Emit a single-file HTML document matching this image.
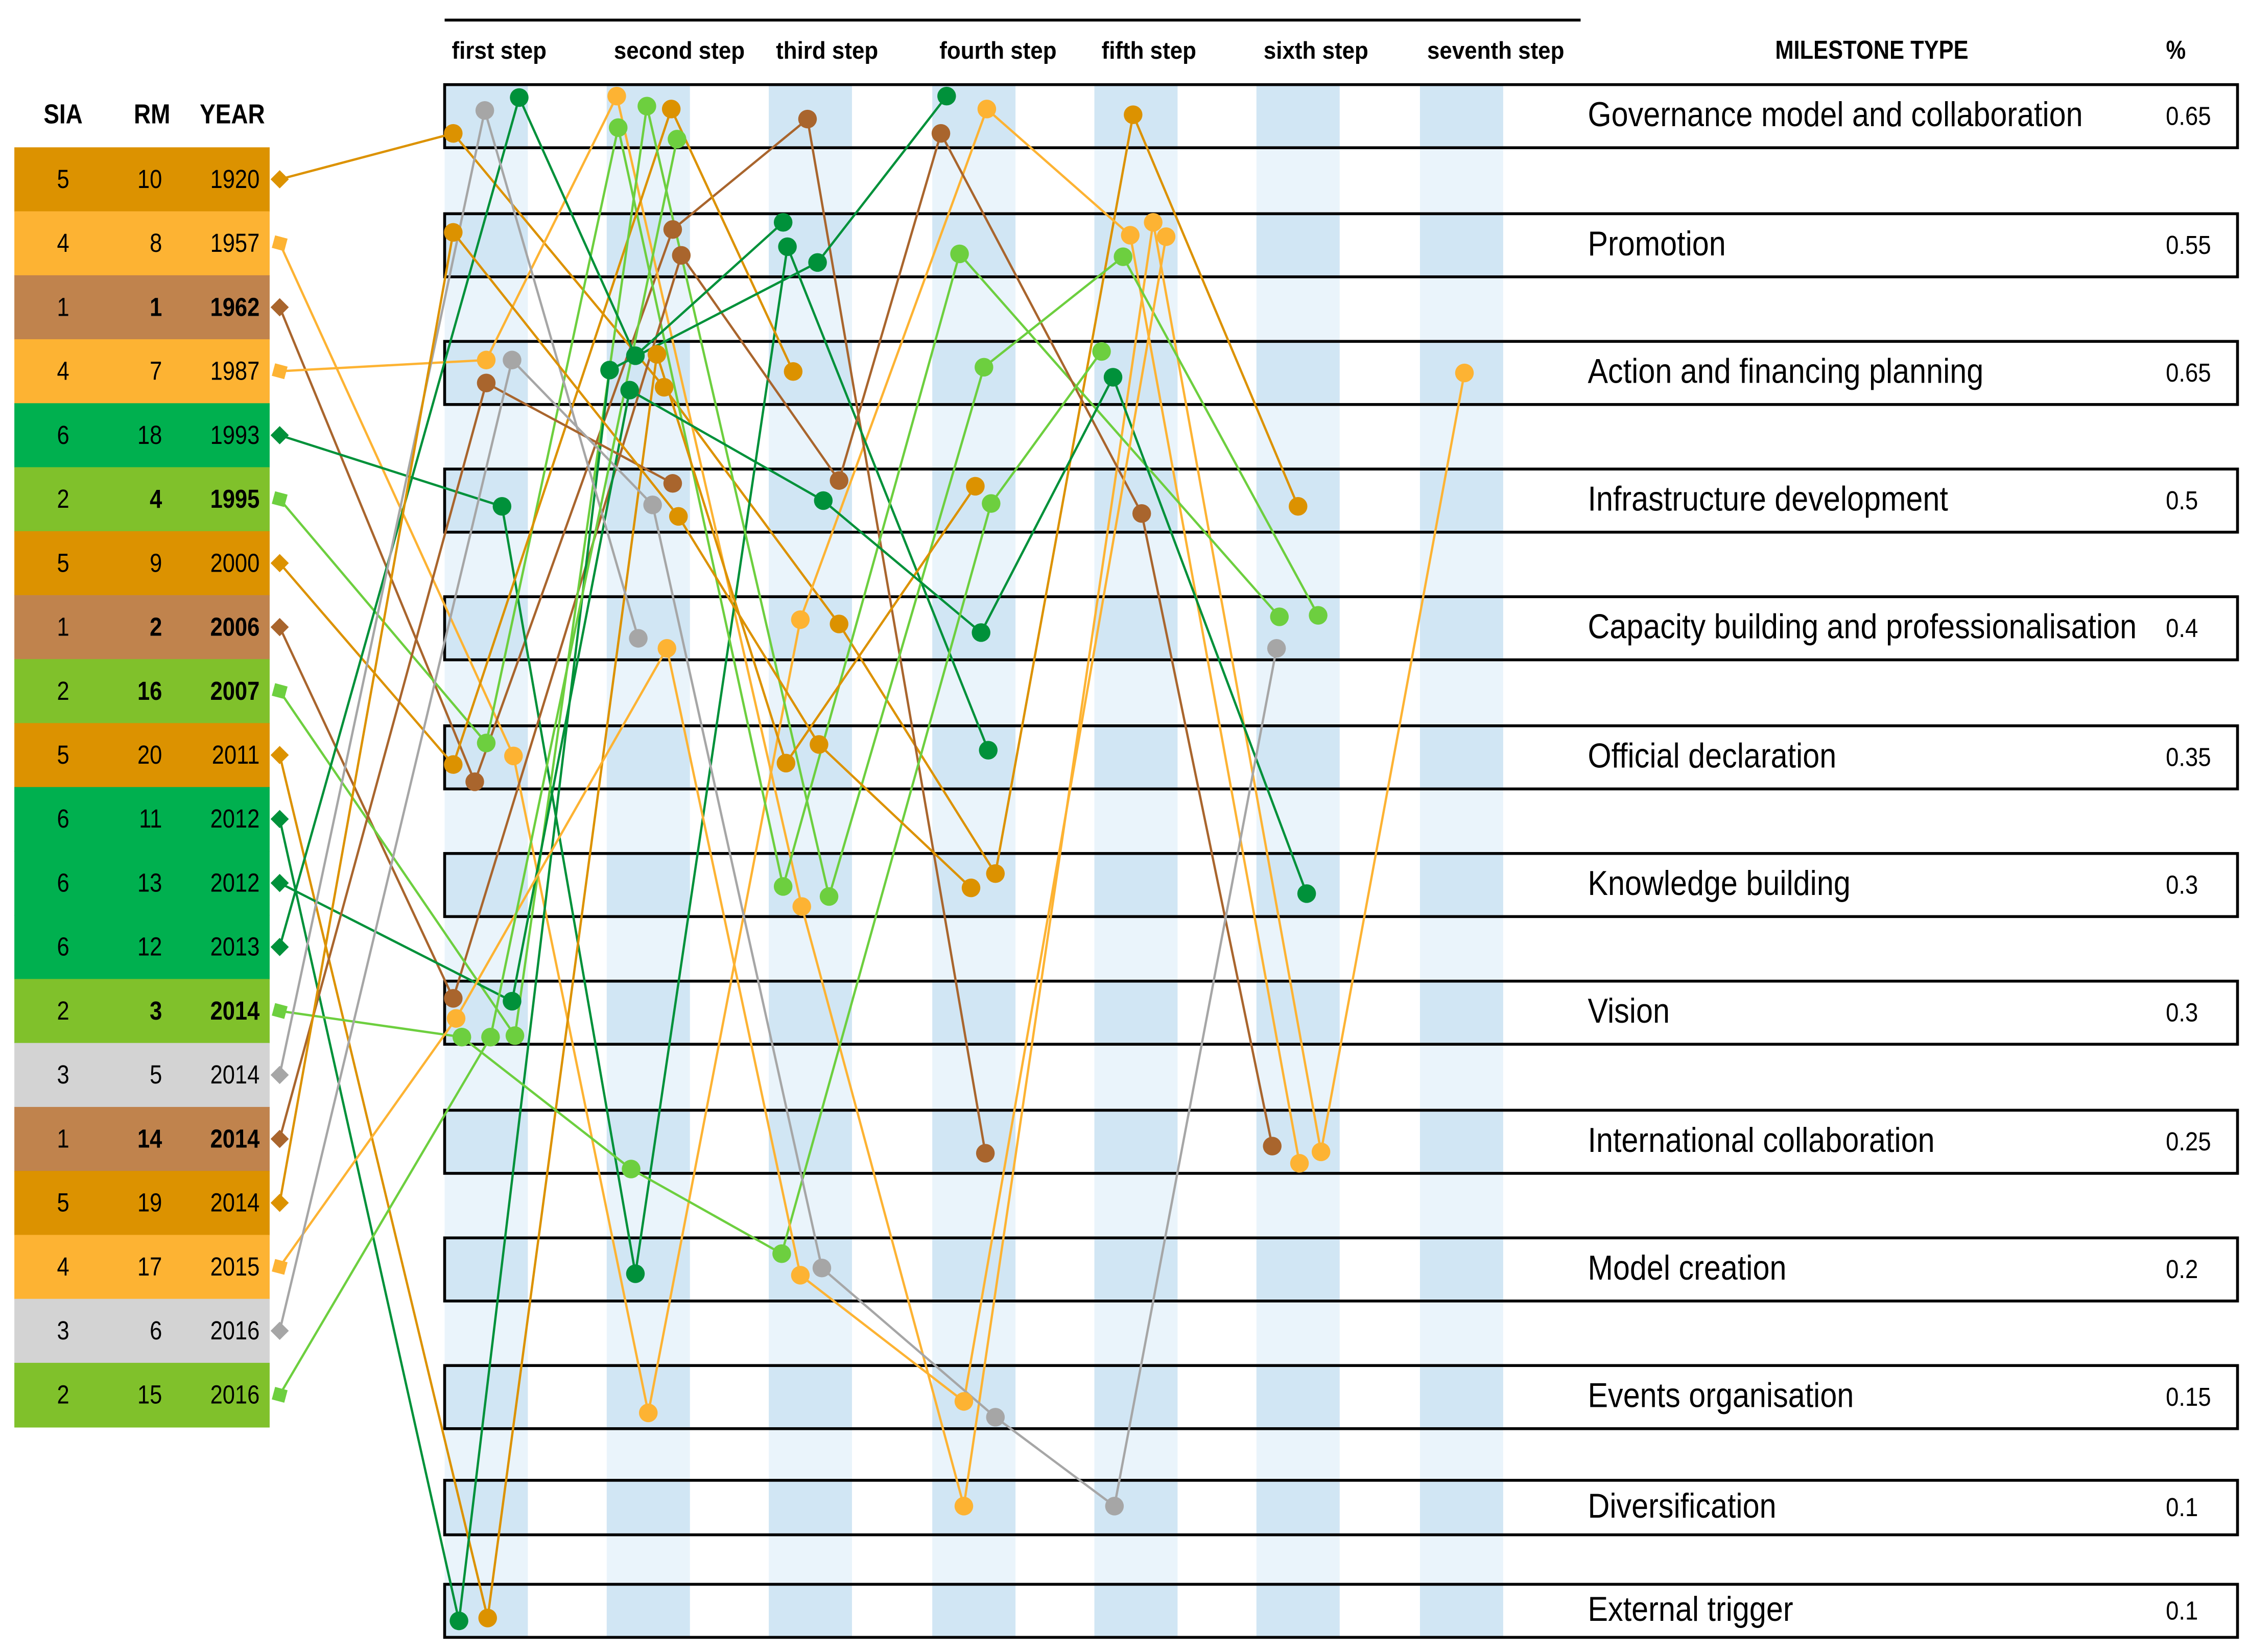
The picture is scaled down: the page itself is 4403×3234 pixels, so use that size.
<!DOCTYPE html>
<html><head><meta charset="utf-8"><style>
html,body{margin:0;padding:0;background:#fff;}
svg{display:block;font-family:"Liberation Sans",sans-serif;}
</style></head><body>
<svg id="chart" width="4403" height="3234" viewBox="0 0 1568 1151.7" xmlns="http://www.w3.org/2000/svg">
<g id="bg"></g><g id="boxes"></g><g id="lines"></g><g id="dots"></g><g id="table"></g><g id="labels"></g>
</svg>
<script>
// ---- data ----
const milestones = ["Governance model and collaboration","Promotion","Action and financing planning","Infrastructure development","Capacity building and professionalisation","Official declaration","Knowledge building","Vision","International collaboration","Model creation","Events organisation","Diversification","External trigger"];
const percents = ["0.65","0.55","0.65","0.5","0.4","0.35","0.3","0.3","0.25","0.2","0.15","0.1","0.1"];
const stepLabels = ["first step","second step","third step","fourth step","fifth step","sixth step","seventh step"];
const caseSIA = [5,4,1,4,6,2,5,1,2,5,6,6,6,2,3,1,5,4,3,2];
const caseRM = [10,8,1,7,18,4,9,2,16,20,11,13,12,3,5,14,19,17,6,15];
const caseYear = [1920,1957,1962,1987,1993,1995,2000,2006,2007,2011,2012,2012,2013,2014,2014,2014,2014,2015,2016,2016];
const boldRM = [false,false,true,false,false,true,false,true,true,false,false,false,false,true,false,true,false,false,false,false];
const boldYear = [false,false,true,false,false,true,false,true,true,false,false,false,false,true,false,true,false,false,false,false];
const caseSteps = [
 [0,1,2,3,4,5],[0,1,2,3,4,5],[0,1,2,3],[0,1,2,3,4,5,6],[0,1,2,3],[0,1,2,3,5],[0,1,2],[0,1,2,3,4,5],[0,1,2,3,4,5],[0,1,2,3],
 [0,1,2,3],[0,1,2,3,4,5],[0,1,2],[0,1,2,3,4],[0,1],[0,1],[0,1,2,3],[0,1,2,3,4],[0,1,2,3,4,5],[0,1]];
const caseMilestones = [
 [0,2,4,6,0,3],[5,10,4,0,1,8],[5,1,0,8],[2,0,6,11,1,8,2],[3,9,1,5],[5,0,6,1,4],[5,0,2],[7,1,3,0,3,8],[7,0,6,2,1,4],[12,2,5,3],
 [12,2,1,0],[7,2,3,4,2,6],[0,2,1],[7,8,9,3,2],[0,4],[2,3],[1,3,5,6],[7,4,9,10,1],[2,3,9,10,11,4],[7,0]];
const jitterX = [
 [-23,11,20,15,-2,0],[19,0,-7,9,-4,1],[-8,17,-2,8],[0,-22,-6,-7,12,16,2],[11,-9,-16,10],[0,-21,-19,-10,-13],[-23,16,-12],[-23,23,20,-23,4,-18],[20,-1,13,7,-9,14],[1,6,-17,1],
 [-19,-27,5,-19],[18,-13,9,5,-16,6],[23,-9,-19],[-17,-12,-20,12,-24],[-1,-7],[0,17],[-23,21,6,-2],[-21,13,-7,-7,21],[18,3,8,15,-15,-15],[3,20]];
const jitterY = [
 [12,10,-3,-8,-1,4],[-1,11,-6,-5,-7,15],[17,-11,2,8],[-9,-14,15,-1,-16,7,0],[4,3,1,-5],[-10,8,1,6,-8],[5,-5,-1],[-10,7,-14,12,9,3],[16,-7,8,-4,8,-9],[5,-13,4,-10],
 [7,-2,12,-14],[-8,12,0,3,3,6],[-13,-12,-16],[17,19,-11,2,-15],[-4,7],[7,-12],[-9,11,-9,2],[4,14,4,3,-6],[-9,3,-1,14,-1,14],[17,16]];
const siaCell = {5:"#dc9200",4:"#fdb333",1:"#c0834d",6:"#00b04f",2:"#80c12b",3:"#d3d3d3"};
const siaLine = {5:"#dc9200",4:"#fdb333",1:"#a9652d",6:"#00913a",2:"#6dcf3f",3:"#a6a6a6"};

// ---- layout ----
const NS="http://www.w3.org/2000/svg";
const bandX=[310,423,536,650,763,876,990], bandW=58;
const rowC=[81,171,260,349,438,528,617,706,796,885,974,1051,1123];
const rowH=[22,22,22,22,22,22,22,22,22,22,22,19,18.5];
const tblTop=102.7, tblRow=44.6;
function xS(s){return bandX[s]+bandW/2;}
function yM(m){return rowC[m];}
function yRow(i){return tblTop+tblRow*(i+0.5);}
function mk(tag,attrs,parent){const e=document.createElementNS(NS,tag);for(const k in attrs)e.setAttribute(k,attrs[k]);parent.appendChild(e);return e;}
const bg=document.getElementById('bg'),boxes=document.getElementById('boxes'),lines=document.getElementById('lines'),dots=document.getElementById('dots'),table=document.getElementById('table'),labels=document.getElementById('labels');

bandX.forEach((x,i)=>{
  const b=mk('rect',{x:x,y:59,width:bandW,height:1142-59,fill:"#eaf4fb"},bg);
  
  
  rowC.forEach((c,m)=>{
    const d=mk('rect',{x:x,y:c-rowH[m],width:bandW,height:rowH[m]*2,fill:"#d1e6f4"},bg);
    
    
  });
});
rowC.forEach((c,m)=>{
  const r=mk('rect',{x:310,y:c-rowH[m],width:1250,height:rowH[m]*2,fill:"none",stroke:"#000","stroke-width":2},boxes);
  
  
  const g=mk('g',{transform:`translate(1107,${c+7}) scale(0.88,1)`},labels);
  const t=mk('text',{x:0,y:0,"font-size":24,fill:"#000"},g);
  t.textContent=milestones[m];
  
  
  const pg=mk('g',{transform:`translate(1510,${c+6}) scale(0.9,1)`},labels);
  const p=mk('text',{x:0,y:0,"font-size":18,fill:"#000"},pg);
  p.textContent=percents[m];
  
  
});
const hl=mk('line',{x1:310,y1:14,x2:1102,y2:14,stroke:"#000","stroke-width":2},labels);


stepLabels.forEach((s,i)=>{
  const g=mk('g',{transform:`translate(${bandX[i]+5},41) scale(0.92,1)`},labels);
  const t=mk('text',{x:0,y:0,"font-size":17,"font-weight":"bold"},g);
  t.textContent=s;
  
  
});
function hdr(txt,x,y,size,anchor,name){
  const g=mk('g',{transform:`translate(${x},${y}) scale(0.86,1)`},labels);
  const t=mk('text',{x:0,y:0,"font-size":size,"font-weight":"bold","text-anchor":anchor},g);
  t.textContent=txt;
  
  
}
hdr("MILESTONE TYPE",1305,41,18,"middle","milestone-type-header");
hdr("%",1517,41,18,"middle","percent-header");
hdr("SIA",44,86,19,"middle","sia-header");
hdr("RM",106,86,19,"middle","rm-header");
hdr("YEAR",162,86,19,"middle","year-header");

caseSIA.forEach((sia,i)=>{
  const y=tblTop+tblRow*i;
  const r=mk('rect',{x:10,y:y,width:178,height:tblRow+0.5,fill:siaCell[sia]},table);
  
  
  const cy=yRow(i)+6;
  [[String(sia),44,false,'sia-cell'],[String(caseRM[i]),113,boldRM[i],'rm-cell'],[String(caseYear[i]),181,boldYear[i],'year-cell']].forEach(([v,x,b,n],k)=>{
    const g=mk('g',{transform:`translate(${x},${cy}) scale(0.86,1)`},table);
    const t=mk('text',{x:0,y:0,"font-size":18,"font-weight":b?"bold":"normal","text-anchor":k===0?"middle":"end"},g);
    t.textContent=v;
    
    
  });
});

caseSIA.forEach((sia,i)=>{
  const col=siaLine[sia];
  const mx=195, my=yRow(i);
  let pts=[[mx,my]];
  caseSteps[i].forEach((s,k)=>{pts.push([xS(s)+jitterX[i][k], yM(caseMilestones[i][k])+jitterY[i][k]]);});
  const pl=mk('polyline',{points:pts.map(p=>p.join(',')).join(' '),fill:"none",stroke:col,"stroke-width":1.6},lines);
  
  
  const light=(sia===2||sia===4);
  const mkr=mk('rect',{x:mx-4.5,y:my-4.5,width:9,height:9,fill:col,transform:`rotate(${light?15:45} ${mx} ${my})`},dots);
  
  
  pts.slice(1).forEach(p=>{
    const c=mk('circle',{cx:p[0],cy:p[1],r:6.5,fill:col},dots);
    
    
  });
});
</script>
</body></html>
